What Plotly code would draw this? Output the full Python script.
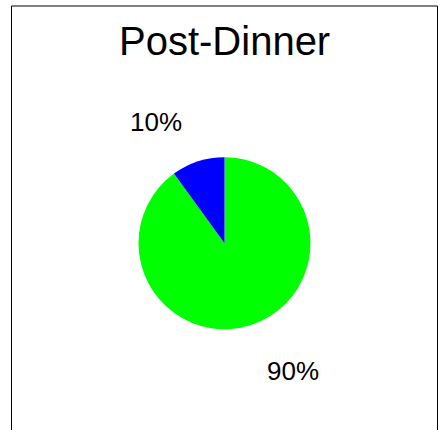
import math
import plotly.graph_objects as go

labels = ["Green", "Blue"]
values = [90, 10]
colors = ["#00FF00", "#0000FF"]
title_text = "Post-Dinner"

W, H = 438, 430
cx, cy, r = 224.5, 243.2, 86.0  # pie centre / radius in pixels
label_dist = 1.52
label_shift = 3.0  # text baseline shift (pixels, downwards)

fig = go.Figure(go.Pie(
    labels=labels, values=values, sort=False, direction="clockwise",
    rotation=0, marker=dict(colors=colors, line=dict(width=0)),
    textinfo="none", hoverinfo="none", showlegend=False,
    domain=dict(x=[(cx - r) / W, (cx + r) / W], y=[(H - cy - r) / H, (H - cy + r) / H]),
))

total = sum(values)
start = 90.0
annotations = []
for v in values:
    span = 360.0 * v / total
    mid = math.radians(start - span / 2)
    start -= span
    px = cx + label_dist * r * math.cos(mid)
    py = cy - label_dist * r * math.sin(mid) + label_shift
    annotations.append(dict(
        x=px / W, y=1 - py / H, xref="paper", yref="paper",
        text=f"{round(100 * v / total)}%", showarrow=False,
        xanchor="right" if math.cos(mid) < 0 else "left", yanchor="middle",
        font=dict(family="Liberation Sans, Arial", size=26, color="black"),
    ))

annotations.append(dict(
    x=cx / W, y=1 - 41 / H, xref="paper", yref="paper", text=title_text,
    showarrow=False, xanchor="center", yanchor="middle",
    font=dict(family="Liberation Sans, Arial", size=40, color="black"),
))

fig.update_layout(
    width=W, height=H, margin=dict(l=0, r=0, t=0, b=0),
    paper_bgcolor="white", plot_bgcolor="white",
    annotations=annotations,
    shapes=[dict(type="rect", xref="paper", yref="paper",
                 x0=11.5 / W, x1=437.5 / W, y0=1 - 6 / H, y1=1 - 445 / H,
                 line=dict(color="black", width=1), fillcolor="rgba(0,0,0,0)")],
)

fig.write_html("out.html", config={"displayModeBar": False},
               post_script="document.body.style.margin='0';document.body.style.overflow='hidden';")
